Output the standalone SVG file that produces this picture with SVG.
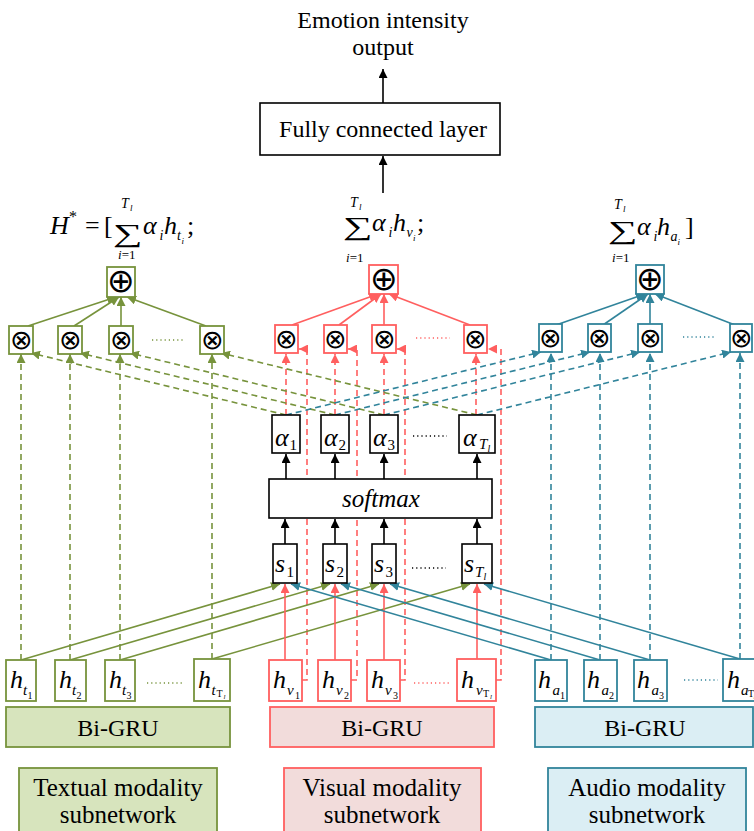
<svg xmlns="http://www.w3.org/2000/svg" width="754" height="831" viewBox="0 0 754 831">
<defs>
<style>
text{font-family:"Liberation Serif","Times New Roman",serif;fill:#000}
.t24{font-size:24px}
.t25{font-size:25px}
.c{text-anchor:middle}
.it{font-style:italic}
.h{font-size:26px;font-style:italic}
.sub{font-size:15px;font-style:italic}
.subn{font-size:15px}
.ss{font-size:10px}
.ssi{font-size:10px;font-style:italic}
.sss{font-size:7px;font-style:italic}
.sym{font-family:"DejaVu Sans",sans-serif;font-weight:200;text-anchor:middle}
.ot{font-size:27px}
.op{font-size:33px}
.node{fill:#fff;stroke:#000;stroke-width:1.6}
.gbox{fill:#fff;stroke:#77933c;stroke-width:1.8}
.rbox{fill:#fff;stroke:#ff5f5f;stroke-width:1.8}
.bbox{fill:#fff;stroke:#31849b;stroke-width:1.8}
.g{stroke:#77933c;stroke-width:1.6;fill:none}
.r{stroke:#ff5f5f;stroke-width:1.6;fill:none}
.b{stroke:#31849b;stroke-width:1.6;fill:none}
.k{stroke:#000;stroke-width:1.6;fill:none}
.d{stroke-dasharray:6 4}
.dots{stroke-width:1.3;stroke-dasharray:1.2 3;fill:none}
</style>
<marker id="ag" markerUnits="userSpaceOnUse" markerWidth="10" markerHeight="9" refX="9" refY="4.5" orient="auto"><path d="M0,0 L9,4.5 L0,9 z" fill="#77933c"/></marker>
<marker id="ar" markerUnits="userSpaceOnUse" markerWidth="10" markerHeight="9" refX="9" refY="4.5" orient="auto"><path d="M0,0 L9,4.5 L0,9 z" fill="#ff5f5f"/></marker>
<marker id="ab" markerUnits="userSpaceOnUse" markerWidth="10" markerHeight="9" refX="9" refY="4.5" orient="auto"><path d="M0,0 L9,4.5 L0,9 z" fill="#31849b"/></marker>
<marker id="ak" markerUnits="userSpaceOnUse" markerWidth="10" markerHeight="9" refX="9" refY="4.5" orient="auto"><path d="M0,0 L9,4.5 L0,9 z" fill="#000"/></marker>
</defs>
<rect width="754" height="831" fill="#fff"/>

<g id="output">
<text class="t24 c" x="383" y="28">Emotion intensity</text>
<text class="t24 c" x="383" y="55">output</text>
</g>

<g id="formula-text">
<text class="h" x="50" y="234">H</text>
<text x="69" y="222" font-size="16">*</text>
<text x="85" y="234" font-size="26">=</text>
<text x="104" y="234" font-size="26">[</text>
<text x="0" y="0" font-size="26" transform="translate(113,242) scale(1.6,1)">∑</text>
<text class="it" x="121" y="208" font-size="14">T</text>
<text class="it" x="130" y="211" font-size="9">l</text>
<text x="118" y="259" font-size="13"><tspan font-style="italic">i</tspan>=1</text>
<text class="h" x="143" y="234">α</text>
<text class="it" x="159.5" y="240" font-size="14">i</text>
<text class="h" x="164" y="234">h</text>
<text class="it" x="177" y="240" font-size="14">t</text>
<text class="it" x="181.5" y="244" font-size="9">i</text>
<text x="187" y="234" font-size="26">;</text>
</g>
<g id="formula-visual">
<text x="0" y="0" font-size="26" transform="translate(343,235) scale(1.6,1)">∑</text>
<text class="it" x="350" y="207" font-size="14">T</text>
<text class="it" x="359" y="210" font-size="9">l</text>
<text x="346" y="262" font-size="13"><tspan font-style="italic">i</tspan>=1</text>
<text class="h" x="372" y="231">α</text>
<text class="it" x="388.5" y="237" font-size="14">i</text>
<text class="h" x="393" y="231">h</text>
<text class="it" x="406.5" y="237" font-size="14">v</text>
<text class="it" x="413" y="241" font-size="9">i</text>
<text x="417" y="231" font-size="26">;</text>
</g>
<g id="formula-audio">
<text x="0" y="0" font-size="26" transform="translate(608,239) scale(1.6,1)">∑</text>
<text class="it" x="614" y="209" font-size="14">T</text>
<text class="it" x="623" y="212" font-size="9">l</text>
<text x="612" y="262" font-size="13"><tspan font-style="italic">i</tspan>=1</text>
<text class="h" x="637" y="235">α</text>
<text class="it" x="653.5" y="241" font-size="14">i</text>
<text class="h" x="657" y="235">h</text>
<text class="it" x="670.5" y="241" font-size="14">a</text>
<text class="it" x="677.5" y="245" font-size="9">i</text>
<text x="685" y="235" font-size="26">]</text>
</g>

<g id="connectors">
<line class="k" x1="383" y1="193" x2="383" y2="156" marker-end="url(#ak)"/>
<line class="k" x1="383" y1="103" x2="383" y2="69" marker-end="url(#ak)"/>
<line class="g" x1="28" y1="326" x2="116" y2="297" marker-end="url(#ag)"/>
<line class="g" x1="74" y1="326" x2="119" y2="297" marker-end="url(#ag)"/>
<line class="g" x1="121" y1="326" x2="121" y2="297" marker-end="url(#ag)"/>
<line class="g" x1="206" y1="326" x2="127" y2="297" marker-end="url(#ag)"/>
<line class="r" x1="292" y1="325" x2="378" y2="294" marker-end="url(#ar)"/>
<line class="r" x1="339" y1="325" x2="381" y2="294" marker-end="url(#ar)"/>
<line class="r" x1="384" y1="325" x2="384" y2="294" marker-end="url(#ar)"/>
<line class="r" x1="470" y1="325" x2="389" y2="294" marker-end="url(#ar)"/>
<line class="b" x1="556" y1="325" x2="645" y2="294" marker-end="url(#ab)"/>
<line class="b" x1="603" y1="325" x2="648" y2="294" marker-end="url(#ab)"/>
<line class="b" x1="650" y1="325" x2="650" y2="294" marker-end="url(#ab)"/>
<line class="b" x1="735" y1="325" x2="655" y2="294" marker-end="url(#ab)"/>

<line class="g d" x1="21" y1="660" x2="21" y2="354" marker-end="url(#ag)"/>
<line class="g d" x1="70" y1="660" x2="70" y2="354" marker-end="url(#ag)"/>
<line class="g d" x1="120" y1="660" x2="120" y2="354" marker-end="url(#ag)"/>
<line class="g d" x1="212" y1="659" x2="212" y2="354" marker-end="url(#ag)"/>
<line class="b d" x1="551" y1="660" x2="551" y2="353" marker-end="url(#ab)"/>
<line class="b d" x1="600" y1="660" x2="600" y2="353" marker-end="url(#ab)"/>
<line class="b d" x1="650" y1="660" x2="650" y2="353" marker-end="url(#ab)"/>
<line class="b d" x1="740" y1="659" x2="740" y2="353" marker-end="url(#ab)"/>
<polyline class="r d" points="302,680 307,680 307,349 299,349" marker-end="url(#ar)"/>
<polyline class="r d" points="351,680 357,680 357,349 348,349" marker-end="url(#ar)"/>
<polyline class="r d" points="400,680 405,680 405,349 397,349" marker-end="url(#ar)"/>
<polyline class="r d" points="496,680 501,680 501,349 488,349" marker-end="url(#ar)"/>
<line class="r d" x1="286" y1="415" x2="286" y2="354" marker-end="url(#ar)"/>
<line class="r d" x1="335" y1="415" x2="335" y2="354" marker-end="url(#ar)"/>
<line class="r d" x1="384" y1="415" x2="384" y2="354" marker-end="url(#ar)"/>
<line class="r d" x1="476" y1="415" x2="476" y2="354" marker-end="url(#ar)"/>
<line class="g d" x1="286" y1="415" x2="31" y2="353" marker-end="url(#ag)"/>
<line class="g d" x1="335" y1="415" x2="80" y2="353" marker-end="url(#ag)"/>
<line class="g d" x1="384" y1="415" x2="130" y2="353" marker-end="url(#ag)"/>
<line class="g d" x1="477" y1="415" x2="221" y2="353" marker-end="url(#ag)"/>
<line class="b d" x1="286" y1="415" x2="541" y2="352" marker-end="url(#ab)"/>
<line class="b d" x1="335" y1="415" x2="590" y2="352" marker-end="url(#ab)"/>
<line class="b d" x1="384" y1="415" x2="640" y2="352" marker-end="url(#ab)"/>
<line class="b d" x1="477" y1="415" x2="731" y2="352" marker-end="url(#ab)"/>

<line class="k" x1="286" y1="479" x2="286" y2="454" marker-end="url(#ak)"/>
<line class="k" x1="335" y1="479" x2="335" y2="454" marker-end="url(#ak)"/>
<line class="k" x1="384" y1="479" x2="384" y2="454" marker-end="url(#ak)"/>
<line class="k" x1="477" y1="479" x2="477" y2="454" marker-end="url(#ak)"/>
<line class="k" x1="285" y1="544" x2="285" y2="519" marker-end="url(#ak)"/>
<line class="k" x1="335" y1="544" x2="335" y2="519" marker-end="url(#ak)"/>
<line class="k" x1="384" y1="544" x2="384" y2="519" marker-end="url(#ak)"/>
<line class="k" x1="477" y1="544" x2="477" y2="519" marker-end="url(#ak)"/>

<line class="g" x1="21" y1="660" x2="280" y2="584" marker-end="url(#ag)"/>
<line class="g" x1="70" y1="660" x2="330" y2="584" marker-end="url(#ag)"/>
<line class="g" x1="120" y1="660" x2="379" y2="584" marker-end="url(#ag)"/>
<line class="g" x1="212" y1="659" x2="470" y2="584" marker-end="url(#ag)"/>
<line class="r" x1="285" y1="660" x2="285" y2="584" marker-end="url(#ar)"/>
<line class="r" x1="335" y1="660" x2="335" y2="584" marker-end="url(#ar)"/>
<line class="r" x1="384" y1="660" x2="384" y2="584" marker-end="url(#ar)"/>
<line class="r" x1="477" y1="659" x2="477" y2="584" marker-end="url(#ar)"/>
<line class="b" x1="551" y1="660" x2="291" y2="584" marker-end="url(#ab)"/>
<line class="b" x1="600" y1="660" x2="341" y2="584" marker-end="url(#ab)"/>
<line class="b" x1="650" y1="660" x2="390" y2="584" marker-end="url(#ab)"/>
<line class="b" x1="740" y1="659" x2="484" y2="584" marker-end="url(#ab)"/>

<line class="dots" stroke="#77933c" x1="152" y1="340" x2="185" y2="340"/>
<line class="dots" stroke="#ff5f5f" x1="416" y1="338" x2="450" y2="338"/>
<line class="dots" stroke="#31849b" x1="683" y1="337" x2="716" y2="337"/>
<line class="dots" stroke="#000" x1="413" y1="436" x2="447" y2="436"/>
<line class="dots" stroke="#000" x1="412" y1="568" x2="446" y2="568"/>
<line class="dots" stroke="#77933c" x1="147" y1="683" x2="182" y2="683"/>
<line class="dots" stroke="#ff5f5f" x1="414" y1="683" x2="449" y2="683"/>
<line class="dots" stroke="#31849b" x1="684" y1="680" x2="718" y2="680"/>
</g>

<g id="fc">
<rect class="node" x="260" y="103" width="240" height="52"/>
<text class="t24 c" x="383" y="137">Fully connected layer</text>
</g>

<g id="oplus-t"><rect class="gbox" x="107" y="267" width="28" height="30"/><text class="sym op" x="121" y="292">⊕</text></g>
<g id="oplus-v"><rect class="rbox" x="369" y="265" width="29" height="29"/><text class="sym op" x="383.5" y="290">⊕</text></g>
<g id="oplus-a"><rect class="bbox" x="636" y="265" width="28" height="29"/><text class="sym op" x="650" y="290">⊕</text></g>

<g id="otimes-t1"><rect class="gbox" x="9" y="326" width="24" height="28"/><text class="sym ot" x="21" y="349">⊗</text></g>
<g id="otimes-t2"><rect class="gbox" x="58" y="326" width="24" height="28"/><text class="sym ot" x="70" y="349">⊗</text></g>
<g id="otimes-t3"><rect class="gbox" x="109" y="326" width="24" height="28"/><text class="sym ot" x="121" y="349">⊗</text></g>
<g id="otimes-t4"><rect class="gbox" x="200" y="326" width="24" height="28"/><text class="sym ot" x="212" y="349">⊗</text></g>
<g id="otimes-v1"><rect class="rbox" x="275" y="325" width="23" height="28"/><text class="sym ot" x="286.5" y="348">⊗</text></g>
<g id="otimes-v2"><rect class="rbox" x="324" y="325" width="23" height="28"/><text class="sym ot" x="335.5" y="348">⊗</text></g>
<g id="otimes-v3"><rect class="rbox" x="372" y="325" width="24" height="28"/><text class="sym ot" x="384" y="348">⊗</text></g>
<g id="otimes-v4"><rect class="rbox" x="464" y="325" width="23" height="28"/><text class="sym ot" x="475.5" y="348">⊗</text></g>
<g id="otimes-a1"><rect class="bbox" x="539" y="324" width="23" height="28"/><text class="sym ot" x="550.5" y="347">⊗</text></g>
<g id="otimes-a2"><rect class="bbox" x="588" y="324" width="23" height="28"/><text class="sym ot" x="599.5" y="347">⊗</text></g>
<g id="otimes-a3"><rect class="bbox" x="638" y="324" width="24" height="28"/><text class="sym ot" x="650" y="347">⊗</text></g>
<g id="otimes-a4"><rect class="bbox" x="730" y="324" width="22" height="28"/><text class="sym ot" x="741" y="347">⊗</text></g>

<g id="alpha1"><rect class="node" x="272" y="415" width="28" height="38"/><text class="h" x="275" y="446">α</text><text class="subn" x="289.5" y="450">1</text></g>
<g id="alpha2"><rect class="node" x="321" y="415" width="28" height="38"/><text class="h" x="324" y="446">α</text><text class="subn" x="338.5" y="450">2</text></g>
<g id="alpha3"><rect class="node" x="370" y="415" width="28" height="38"/><text class="h" x="373" y="446">α</text><text class="subn" x="387.5" y="450">3</text></g>
<g id="alphaT"><rect class="node" x="459" y="415" width="36" height="38"/><text class="h" x="463" y="446">α</text><text class="sub" x="479" y="449" font-size="14">T</text><text class="ssi" x="487.5" y="452" font-size="9">l</text></g>

<g id="softmax"><rect class="node" x="269" y="479" width="223" height="39"/><text class="c it" x="381" y="507" font-size="25">softmax</text></g>

<g id="s1"><rect class="node" x="273" y="544" width="24" height="39"/><text class="h" x="275" y="572">s</text><text class="subn" x="286.5" y="577">1</text></g>
<g id="s2"><rect class="node" x="323" y="544" width="24" height="39"/><text class="h" x="325" y="572">s</text><text class="subn" x="336.5" y="577">2</text></g>
<g id="s3"><rect class="node" x="372" y="544" width="24" height="39"/><text class="h" x="374" y="572">s</text><text class="subn" x="385.5" y="577">3</text></g>
<g id="sT"><rect class="node" x="462" y="544" width="30" height="39"/><text class="h" x="464" y="572">s</text><text class="sub" x="475" y="577" font-size="14">T</text><text class="ssi" x="483.5" y="580" font-size="9">l</text></g>

<g id="ht1"><rect class="gbox" x="6" y="660" width="30" height="41"/><text class="h" x="10" y="688">h</text><text class="sub" x="23" y="695">t</text><text class="ss" x="27.5" y="699">1</text></g>
<g id="ht2"><rect class="gbox" x="55" y="660" width="31" height="41"/><text class="h" x="59" y="688">h</text><text class="sub" x="72" y="695">t</text><text class="ss" x="76.5" y="699">2</text></g>
<g id="ht3"><rect class="gbox" x="105" y="660" width="30" height="41"/><text class="h" x="109" y="688">h</text><text class="sub" x="122" y="695">t</text><text class="ss" x="126.5" y="699">3</text></g>
<g id="htT"><rect class="gbox" x="194" y="659" width="36" height="42"/><text class="h" x="198" y="688">h</text><text class="sub" x="211.5" y="695">t</text><text class="ss" x="216.5" y="697">T</text><text class="sss" x="223.5" y="699">l</text></g>
<g id="hv1"><rect class="rbox" x="269" y="660" width="33" height="41"/><text class="h" x="273" y="688">h</text><text class="sub" x="287" y="695">v</text><text class="ss" x="295" y="699">1</text></g>
<g id="hv2"><rect class="rbox" x="318" y="660" width="33" height="41"/><text class="h" x="322" y="688">h</text><text class="sub" x="336" y="695">v</text><text class="ss" x="344" y="699">2</text></g>
<g id="hv3"><rect class="rbox" x="367" y="660" width="33" height="41"/><text class="h" x="371" y="688">h</text><text class="sub" x="385" y="695">v</text><text class="ss" x="393" y="699">3</text></g>
<g id="hvT"><rect class="rbox" x="457" y="659" width="39" height="42"/><text class="h" x="461" y="688">h</text><text class="sub" x="476" y="695">v</text><text class="ss" x="483" y="697">T</text><text class="sss" x="490" y="699">l</text></g>
<g id="ha1"><rect class="bbox" x="535" y="660" width="32" height="41"/><text class="h" x="538" y="688">h</text><text class="sub" x="552.5" y="695">a</text><text class="ss" x="560" y="699">1</text></g>
<g id="ha2"><rect class="bbox" x="584" y="660" width="33" height="41"/><text class="h" x="587" y="688">h</text><text class="sub" x="601.5" y="695">a</text><text class="ss" x="609" y="699">2</text></g>
<g id="ha3"><rect class="bbox" x="634" y="660" width="33" height="41"/><text class="h" x="637" y="688">h</text><text class="sub" x="651.5" y="695">a</text><text class="ss" x="659" y="699">3</text></g>
<g id="haT"><rect class="bbox" x="723" y="659" width="36" height="42"/><text class="h" x="727" y="688">h</text><text class="sub" x="741" y="695">a</text><text class="ss" x="748" y="697">T</text><text class="sss" x="753.5" y="699">l</text></g>

<g id="bigru-t"><rect x="6" y="707" width="224" height="40" fill="#d7e4bd" stroke="#77933c" stroke-width="1.8"/><text class="t24 c" x="118" y="736">Bi-GRU</text></g>
<g id="bigru-v"><rect x="270" y="707" width="224" height="40" fill="#f2dcdb" stroke="#ff5f5f" stroke-width="1.8"/><text class="t24 c" x="382" y="736">Bi-GRU</text></g>
<g id="bigru-a"><rect x="535" y="707" width="218" height="40" fill="#dbeef4" stroke="#31849b" stroke-width="1.8"/><text class="t24 c" x="645" y="736">Bi-GRU</text></g>

<g id="sub-t"><rect x="19" y="768" width="198" height="70" fill="#d7e4bd" stroke="#77933c" stroke-width="1.8"/><text class="t25 c" x="118" y="796">Textual modality</text><text class="t25 c" x="118" y="823">subnetwork</text></g>
<g id="sub-v"><rect x="284" y="768" width="197" height="70" fill="#f2dcdb" stroke="#ff5f5f" stroke-width="1.8"/><text class="t25 c" x="382" y="796">Visual modality</text><text class="t25 c" x="382" y="823">subnetwork</text></g>
<g id="sub-a"><rect x="548" y="768" width="198" height="70" fill="#dbeef4" stroke="#31849b" stroke-width="1.8"/><text class="t25 c" x="647" y="796">Audio modality</text><text class="t25 c" x="647" y="823">subnetwork</text></g>
</svg>
